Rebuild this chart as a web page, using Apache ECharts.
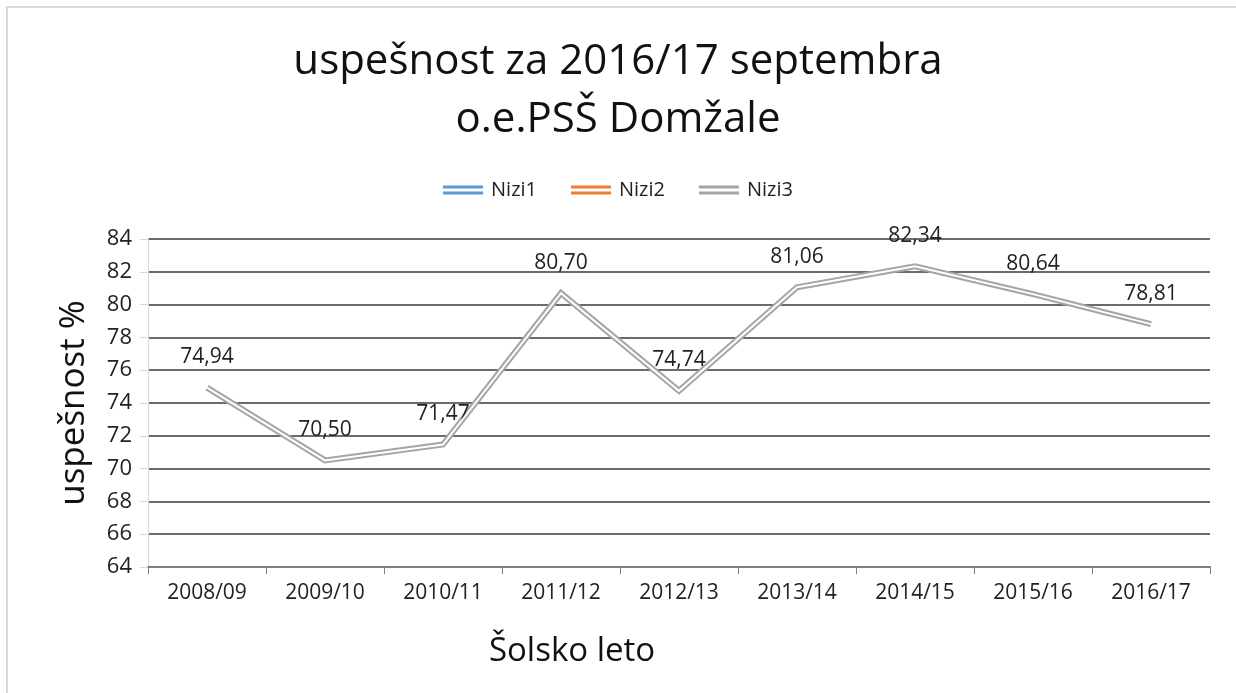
<!DOCTYPE html>
<html><head><meta charset="utf-8">
<script src="https://cdn.jsdelivr.net/npm/echarts@6/dist/echarts.min.js"></script>
<style>html,body{margin:0;padding:0;background:#fff}#c{width:1236px;height:693px}</style>
</head><body><div id="c"></div>
<script>
const categories = ['2008/09','2009/10','2010/11','2011/12','2012/13','2013/14','2014/15','2015/16','2016/17'];
const nizi1 = [];
const nizi2 = [];
const nizi3 = [74.94, 70.50, 71.47, 80.70, 74.74, 81.06, 82.34, 80.64, 78.81];
const yTicks = {min: 64, max: 84, interval: 2};

const font = 'Open Sans, Liberation Sans, sans-serif';
const dbl = 'path://M0,0H40V3H0Z M0,6H40V9H0Z';
const chart = echarts.init(document.getElementById('c'));
chart.setOption({
  animation: false,
  graphic: [{type:'rect', shape:{x:7,y:7,width:1300,height:800}, style:{fill:'none', stroke:'#d9d9d9', lineWidth:2}, silent:true}],
  title: {
    text: 'uspešnost za 2016/17 septembra\no.e.PSŠ Domžale',
    left: 'center', top: 28,
    textStyle: {fontFamily: font, fontSize: 42, fontWeight: 'normal', color: '#111', lineHeight: 58}
  },
  legend: {
    top: 175, left: 'center', itemWidth: 46, itemHeight: 9, itemGap: 34,
    textStyle: {fontFamily: font, fontSize: 20, color: '#222'},
    data: [
      {name:'Nizi1', icon: dbl, itemStyle:{color:'#5b9bd5'}},
      {name:'Nizi2', icon: dbl, itemStyle:{color:'#ed7d31'}},
      {name:'Nizi3', icon: dbl, itemStyle:{color:'#a5a5a5', opacity: 1}}
    ]
  },
  grid: {left: 148, right: 26, top: 239, bottom: 126},
  xAxis: {
    type: 'category', data: categories, boundaryGap: true,
    name: 'Šolsko leto', nameLocation: 'middle', nameGap: 68,
    nameTextStyle: {fontFamily: font, fontSize: 33, color: '#111', padding:[0,214,0,0]},
    axisLine: {lineStyle: {color: '#7f7f7f', width: 2}},
    axisTick: {show: true, length: 7, lineStyle:{color:'#7f7f7f'}},
    axisLabel: {fontFamily: font, fontSize: 21, color: '#222', margin: 16}
  },
  yAxis: {
    type: 'value', min: yTicks.min, max: yTicks.max, interval: yTicks.interval,
    name: 'uspešnost %', nameLocation: 'middle', nameGap: 56, nameRotate: 90,
    nameTextStyle: {fontFamily: font, fontSize: 35, color: '#111'},
    axisLine: {show: true, lineStyle: {color: '#d9d9d9', width: 1}},
    axisTick: {show: true, length: 8, lineStyle:{color:'#d9d9d9'}},
    axisLabel: {fontFamily: font, fontSize: 22, color: '#222', margin: 16},
    splitLine: {lineStyle: {color: '#6b6b6b', width: 2}}
  },
  series: [
    {name:'Nizi1', type:'line', data: nizi1, itemStyle:{color:'#5b9bd5'}},
    {name:'Nizi2', type:'line', data: nizi2, itemStyle:{color:'#ed7d31'}},
    {name:'Nizi3', type:'line', data: nizi3, symbol:'circle', symbolSize: 0.01, showSymbol: true,
     itemStyle:{color:'#a5a5a5'},
     lineStyle:{color:'#a5a5a5', width: 6, join:'miter'}, z: 3,
     labelLayout: {hideOverlap: false},
     label:{show:true, position:'top', distance: 20, fontFamily: font, fontSize: 21, color:'#222',
       formatter: p => p.value.toFixed(2).replace('.', ',')}},
    {name:'Nizi3in', type:'line', data: nizi3, symbol:'none', lineStyle:{color:'#ffffff', width: 2, join:'miter'}, z: 4, silent:true}
  ]
});
</script></body></html>
